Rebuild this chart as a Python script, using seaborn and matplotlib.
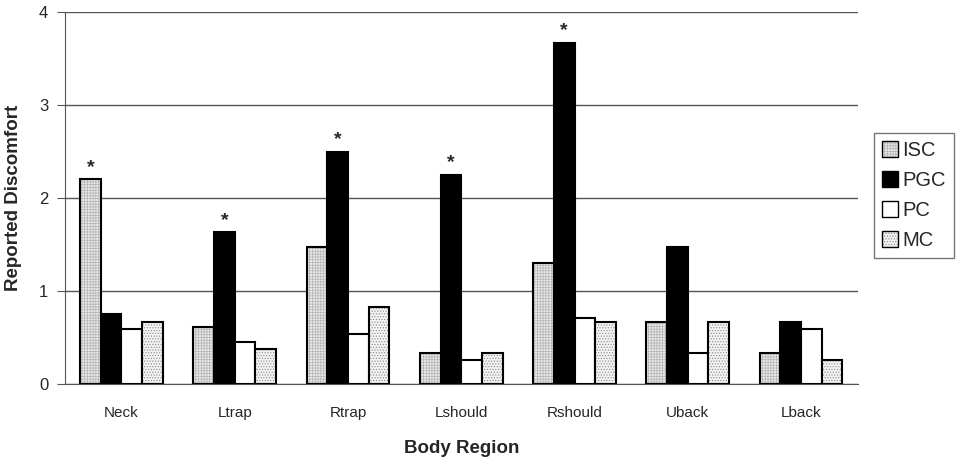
import pandas as pd
import numpy as np
import seaborn as sns
import matplotlib.pyplot as plt
import matplotlib.colors as mcolors
from matplotlib.patches import Patch

# datos
regiones = ['Neck', 'Ltrap', 'Rtrap', 'Lshould', 'Rshould', 'Uback', 'Lback']
grupos = ['ISC', 'PGC', 'PC', 'MC']
isc = [2.20, 0.61, 1.47, 0.33, 1.30, 0.67, 0.33]
pgc = [0.75, 1.63, 2.50, 2.25, 3.67, 1.47, 0.67]
pc = [0.59, 0.45, 0.54, 0.26, 0.71, 0.33, 0.59]
mc = [0.67, 0.38, 0.83, 0.33, 0.67, 0.67, 0.26]
# asteriscos: (grupo, region)
signif = [('ISC', 'Neck'), ('PGC', 'Ltrap'), ('PGC', 'Rtrap'), ('PGC', 'Lshould'), ('PGC', 'Rshould')]

df = pd.DataFrame({'Region': regiones * 4,
                   'Grupo': [g for g in grupos for _ in regiones],
                   'Valor': isc + pgc + pc + mc})

sns.set_style('white')
plt.rcParams['font.family'] = ['Liberation Sans', 'DejaVu Sans']
plt.rcParams['hatch.linewidth'] = 0.5

# estilo de cada serie: relleno, trama, color de trama
estilos = {'ISC': ('#e8e8e8', '++++++', '#b4b4b4'),
           'PGC': ('black', None, None),
           'PC': ('white', None, None),
           'MC': ('#f2f2f2', '......', '#8a8a8a')}

fig = plt.figure(figsize=(9.68, 4.66), dpi=100)
ax = fig.add_axes([0.067, 0.176, 0.819, 0.798])

sns.barplot(data=df, x='Region', y='Valor', hue='Grupo', order=regiones, hue_order=grupos,
            width=0.73, gap=0, palette=['white'] * 4, legend=False, ax=ax, errorbar=None)

for grupo, cont in zip(grupos, ax.containers):
    fc, hatch, hc = estilos[grupo]
    for barra in cont:
        barra.set_facecolor(fc)
        barra.set_edgecolor('black')
        barra.set_linewidth(1.5)
        if hatch:
            barra.set_hatch(hatch)
            barra._hatch_color = mcolors.to_rgba(hc)
        barra.set_zorder(3)

# asteriscos
for grupo, reg in signif:
    cont = ax.containers[grupos.index(grupo)]
    barra = cont[regiones.index(reg)]
    ax.text(barra.get_x() + barra.get_width() / 2, barra.get_height() + 0.04, '*',
            ha='center', va='bottom', fontsize=14, fontweight='bold')

ax.set_ylim(0, 4)
ax.set_xlim(-0.5, len(regiones) - 0.5)
ax.set_yticks([0, 1, 2, 3, 4])
ax.yaxis.grid(True, color='#555555', linewidth=1)
ax.set_axisbelow(True)
ax.set_xticks(np.arange(len(regiones)) + 0.5, minor=True)
ax.tick_params(axis='x', which='major', length=0, pad=16, labelsize=11)
ax.tick_params(axis='x', which='minor', length=6, color='#555555', direction='out')
ax.tick_params(axis='y', length=6, color='#555555', direction='out', labelsize=12, pad=6, left=True)
for s in ['top', 'right']:
    ax.spines[s].set_visible(False)
for s in ['left', 'bottom']:
    ax.spines[s].set_color('#555555')

ax.set_xlabel('Body Region', fontsize=13.5, fontweight='bold', labelpad=14)
ax.set_ylabel('Reported Discomfort', fontsize=13.5, fontweight='bold', labelpad=12)

handles = []
for grupo in grupos:
    fc, hatch, hc = estilos[grupo]
    p = Patch(facecolor=fc, edgecolor='black', hatch=hatch, linewidth=1, label=grupo)
    if hatch:
        p._hatch_color = mcolors.to_rgba(hc)
    handles.append(p)
leg = fig.legend(handles=handles, loc='upper left', bbox_to_anchor=(0.903, 0.715),
                 fontsize=14.5, frameon=True, fancybox=False, edgecolor='#555555',
                 handlelength=0.8, handleheight=0.8, handletextpad=0.2, labelspacing=0.55,
                 borderpad=0.4, borderaxespad=0)
leg.get_frame().set_linewidth(1)

plt.savefig('out.png', dpi=100)
